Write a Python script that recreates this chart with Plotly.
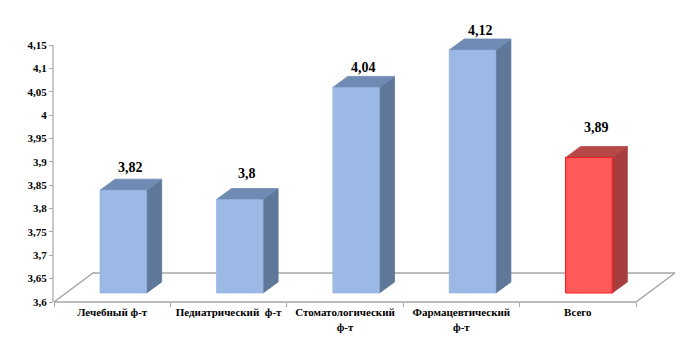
import plotly.graph_objects as go

# ---------------- data ----------------
categories = ["Лечебный ф-т", "Педиатрический  ф-т", "Стоматологический<br>ф-т",
              "Фармацевтический<br>ф-т", "Всего"]
values = [3.82, 3.80, 4.04, 4.12, 3.89]
value_labels = ["3,82", "3,8", "4,04", "4,12", "3,89"]
y_ticks = [3.6, 3.65, 3.7, 3.75, 3.8, 3.85, 3.9, 3.95, 4.0, 4.05, 4.1, 4.15]
y_tick_labels = ["3,6", "3,65", "3,7", "3,75", "3,8", "3,85", "3,9", "3,95", "4", "4,05", "4,1", "4,15"]

# ---------------- geometry / style ----------------
W, H = 700, 342
Y0 = y_ticks[0]
Y_PX = 257 / (y_ticks[-1] - y_ticks[0])   # pixels per value unit
X_PX = 116.4                               # pixels per category
X0_PX, Y0_PX = 54, 302                     # pixel of (x=0, y=Y0)

def dx(px):
    return px / X_PX

def dy(px):
    return px / Y_PX

x_range = [-X0_PX / X_PX, (W - X0_PX) / X_PX]
y_range = [Y0 - (H - Y0_PX) / Y_PX, Y0 + Y0_PX / Y_PX]

FLOOR_DX, FLOOR_DY = dx(39), dy(29)
BAR_OFF, BAR_W = dx(46), dx(46.7)
BAR_LIFT = dy(9)
DEP_X, DEP_Y = dx(15), dy(11)
label_gap_px = [12, 15, 9, 9, 19]

blue = dict(front="#9cb9e6", side="#5f7799", top="#6f8bb3", edge="#8eacdc")
red = dict(front="#ff5a5a", side="#a63e3e", top="#b84848", edge="#ff1f1f")
colors = [blue, blue, blue, blue, red]
grey = "#a6a6a6"
FONT = "Liberation Serif"

fig = go.Figure()

def poly(xs, ys, fill, line_color, lw=0.8):
    fig.add_trace(go.Scatter(x=xs + [xs[0]], y=ys + [ys[0]], mode="lines", fill="toself",
                             fillcolor=fill, line=dict(color=line_color, width=lw),
                             hoverinfo="skip", showlegend=False))

# floor outline
n = len(categories)
fig.add_trace(go.Scatter(
    x=[0, n, n + FLOOR_DX, FLOOR_DX, 0],
    y=[Y0, Y0, Y0 + FLOOR_DY, Y0 + FLOOR_DY, Y0],
    mode="lines", line=dict(color=grey, width=1.5), hoverinfo="skip", showlegend=False))

# bars
for i, v in enumerate(values):
    c = colors[i]
    xl = i + BAR_OFF
    xr = xl + BAR_W
    yb = Y0 + BAR_LIFT
    yt = v + BAR_LIFT
    poly([xr, xr + DEP_X, xr + DEP_X, xr], [yb, yb + DEP_Y, yt + DEP_Y, yt], c["side"], c["side"])
    poly([xl, xl + DEP_X, xr + DEP_X, xr], [yt, yt + DEP_Y, yt + DEP_Y, yt], c["top"], c["top"])
    poly([xl, xr, xr, xl], [yb, yb, yt, yt], c["front"], c["edge"], 1.2 if c is red else 0.6)
    fig.add_annotation(x=(xl + xr) / 2 + DEP_X / 2, y=yt + DEP_Y, text="<b>" + value_labels[i] + "</b>",
                       showarrow=False, yanchor="middle", yshift=label_gap_px[i],
                       font=dict(family=FONT, size=14, color="black"))

# value axis line
ax_x = (53 - X0_PX) / X_PX
fig.add_trace(go.Scatter(x=[ax_x, ax_x], y=[y_ticks[0], y_ticks[-1]], mode="lines",
                         line=dict(color=grey, width=1.2), hoverinfo="skip", showlegend=False))

fig.update_layout(
    width=W, height=H, margin=dict(l=0, r=0, t=0, b=0),
    paper_bgcolor="white", plot_bgcolor="white", showlegend=False,
    font=dict(family=FONT),
    xaxis=dict(range=x_range, anchor="free", position=(H - Y0_PX) / H,
               tickmode="array", tickvals=[i + 0.5 for i in range(n)],
               ticktext=["<b>" + c + "</b>" for c in categories],
               ticks="outside", ticklen=0, tickcolor=grey,
               minor=dict(tickmode="array", tickvals=list(range(n + 1)), ticks="outside",
                          ticklen=4, tickcolor=grey),
               showline=False, showgrid=False, zeroline=False, automargin=False,
               tickfont=dict(family=FONT, size=11, color="black"),
               ticklabelstandoff=0),
    yaxis=dict(range=y_range, anchor="free", position=53 / W,
               tickmode="array", tickvals=y_ticks,
               ticktext=["<b>" + t + "</b>" for t in y_tick_labels],
               ticks="outside", ticklen=4, tickcolor=grey,
               showline=False, showgrid=False, zeroline=False, automargin=False,
               tickfont=dict(family=FONT, size=11, color="black")),
)

fig.write_html("out.html")
